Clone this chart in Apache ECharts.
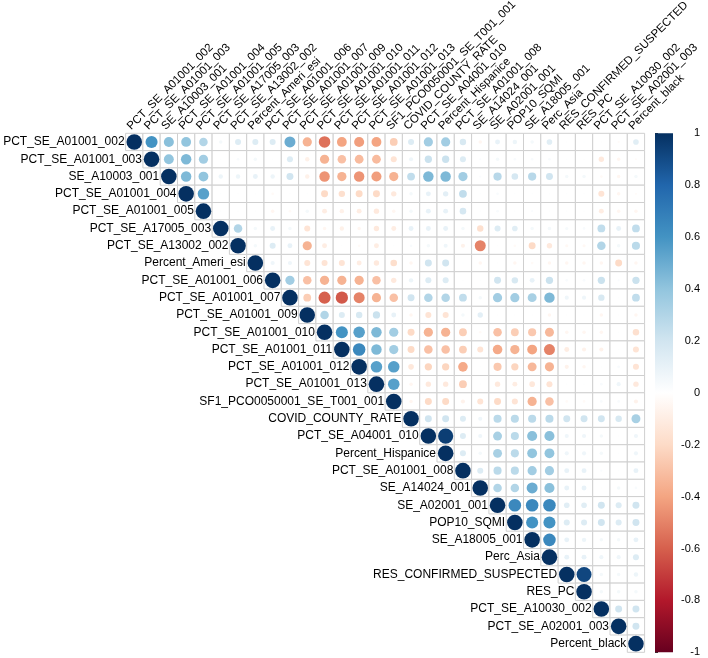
<!DOCTYPE html>
<html><head><meta charset="utf-8">
<script src="https://cdn.jsdelivr.net/npm/echarts@6/dist/echarts.min.js"></script>
<style>html,body{margin:0;padding:0;background:#fff}#c{width:708px;height:658px}</style>
</head><body><div id="c"></div>
<script>
const variables = ["PCT_SE_A01001_002","PCT_SE_A01001_003","SE_A10003_001","PCT_SE_A01001_004","PCT_SE_A01001_005","PCT_SE_A17005_003","PCT_SE_A13002_002","Percent_Ameri_esi","PCT_SE_A01001_006","PCT_SE_A01001_007","PCT_SE_A01001_009","PCT_SE_A01001_010","PCT_SE_A01001_011","PCT_SE_A01001_012","PCT_SE_A01001_013","SF1_PCO0050001_SE_T001_001","COVID_COUNTY_RATE","PCT_SE_A04001_010","Percent_Hispanice","PCT_SE_A01001_008","SE_A14024_001","SE_A02001_001","POP10_SQMI","SE_A18005_001","Perc_Asia","RES_CONFIRMED_SUSPECTED","RES_PC","PCT_SE_A10030_002","PCT_SE_A02001_003","Percent_black"];

// Upper-triangle correlations: rowNN holds r(row NN, columns NN+1 .. 29)
const row00 = [0.6,0.42,0.4,0.3,0.05,0.15,0.15,0.15,0.5,-0.35,-0.55,-0.4,-0.42,-0.4,-0.25,0.15,0.35,0.35,0.17,-0.05,0.1,0.08,0.05,0.13,0.01,0.01,0.01,-0.02,0.13];
const row01 = [0.4,0.45,0.35,0.01,0.03,0.05,0.01,0.15,-0.08,-0.35,-0.3,-0.32,-0.32,-0.15,0.07,0.22,0.22,0.15,0.02,0.05,0.03,0.03,0.03,0.01,0.01,-0.12,-0.05,-0.02];
const row02 = [0.45,0.4,0.08,0.08,0.1,0.08,0.2,-0.08,-0.45,-0.35,-0.45,-0.42,-0.35,0.25,0.45,0.45,0.35,0.02,0.28,0.18,0.28,0.2,0.05,0.05,-0.03,-0.05,0.05];
const row03 = [0.55,0.01,0.01,0.01,-0.03,0.01,0.01,-0.2,-0.17,-0.2,-0.2,-0.12,0.05,0.1,0.12,0.25,0.01,0.03,0.01,0.01,0.01,0.01,0.01,-0.15,-0.05,-0.02];
const row04 = [0.01,0.01,0.01,-0.05,-0.03,0.05,-0.1,-0.08,-0.1,-0.12,-0.05,0.05,0.1,0.1,0.18,0.01,0.03,0.01,0.02,0.01,0.01,0.01,-0.1,-0.05,-0.05];
const row05 = [0.3,0.05,0.1,0.05,-0.15,-0.05,-0.08,-0.05,-0.12,-0.1,0.1,0.1,0.1,0.05,-0.17,0.15,0.13,0.05,0.05,0.04,0.03,0.25,0.1,0.25];
const row06 = [0.05,0.15,0.1,-0.35,-0.1,0.01,-0.03,-0.1,0.01,0.03,0.05,0.07,-0.07,-0.5,0.01,-0.03,-0.2,-0.12,-0.04,-0.04,0.3,0.05,0.27];
const row07 = [0.07,0.07,-0.15,-0.15,-0.15,-0.1,-0.12,-0.18,-0.05,0.2,0.2,0.01,-0.05,0.01,-0.05,-0.03,-0.05,-0.05,-0.05,-0.05,-0.2,-0.05];
const row08 = [0.35,-0.3,-0.35,-0.35,-0.35,-0.3,-0.12,0.08,0.15,0.15,0.01,0.01,0.2,0.17,0.1,0.22,0.03,0.03,0.22,0.02,0.22];
const row09 = [-0.25,-0.6,-0.62,-0.5,-0.35,-0.3,0.2,0.3,0.3,0.25,0.05,0.35,0.35,0.33,0.45,0.07,0.07,0.17,0.01,0.25];
const row10 = [0.3,0.15,0.17,0.22,0.1,-0.05,-0.15,-0.15,0.05,0.12,0.01,0.01,0.01,-0.05,0.01,0.01,-0.05,0.01,-0.05];
const row11 = [0.6,0.55,0.45,0.35,-0.2,-0.35,-0.35,-0.25,-0.03,-0.3,-0.25,-0.27,-0.33,-0.05,-0.05,-0.05,0.01,-0.17];
const row12 = [0.65,0.45,0.35,-0.2,-0.3,-0.3,-0.25,-0.15,-0.38,-0.35,-0.4,-0.5,-0.1,-0.07,-0.07,0.01,-0.15];
const row13 = [0.55,0.55,-0.13,-0.22,-0.22,-0.38,0.01,-0.27,-0.22,-0.33,-0.35,-0.07,-0.05,0.01,0.03,-0.15];
const row14 = [0.55,-0.05,-0.12,-0.12,-0.25,0.01,-0.12,-0.1,-0.13,-0.15,0.01,0.01,0.03,0.07,-0.12];
const row15 = [-0.05,-0.2,-0.2,-0.07,-0.15,-0.2,-0.15,-0.35,-0.3,-0.03,-0.03,0.03,0.03,-0.07];
const row16 = [0.2,0.2,0.15,0.07,0.27,0.27,0.27,0.27,0.2,0.2,0.2,0.17,0.33];
const row17 = [0.95,0.15,0.07,0.33,0.27,0.42,0.42,0.07,0.07,0.05,0.01,0.07];
const row18 = [0.15,0.05,0.33,0.27,0.4,0.4,0.07,0.07,0.05,0.01,0.07];
const row19 = [0.15,0.27,0.27,0.35,0.35,0.1,0.1,0.02,0.01,0.1];
const row20 = [0.3,0.3,0.5,0.42,0.1,0.1,0.01,0.05,0.03];
const row21 = [0.65,0.65,0.65,0.13,0.13,0.2,0.15,0.2];
const row22 = [0.6,0.6,0.15,0.15,0.2,0.15,0.2];
const row23 = [0.65,0.1,0.08,0.05,0.05,0.1];
const row24 = [0.1,0.1,0.07,0.07,0.15];
const row25 = [0.92,0.05,0.05,0.08];
const row26 = [0.05,0.05,0.05];
const row27 = [0.2,0.2];
const row28 = [0.2];

const colorbarMin = -1, colorbarMax = 1, colorbarStep = 0.2;
const palette = ["#67001F","#B2182B","#D6604D","#F4A582","#FDDBC7","#FFFFFF","#D1E5F0","#92C5DE","#4393C3","#2166AC","#053061"];

const upperRows = [row00,row01,row02,row03,row04,row05,row06,row07,row08,row09,row10,row11,row12,row13,row14,row15,row16,row17,row18,row19,row20,row21,row22,row23,row24,row25,row26,row27,row28];

const n = variables.length;
const points = [];
const cells = [];
const diag = [];
for (let i = 0; i < n; i++) {
  points.push([i, i, 1]);
  diag.push([i, i]);
  for (let j = i; j < n; j++) cells.push([j, i]);
  const r = upperRows[i] || [];
  r.forEach((v, k) => points.push([i + 1 + k, i, v]));
}

const FONT = '"Liberation Sans", Arial, sans-serif';
const ROW_LABEL_SIZE = 12;
const COL_LABEL_SIZE = 11.5;
const CELL = 17.3;
const chart = echarts.init(document.getElementById('c'), null, {renderer: 'canvas'});
const stops = palette.slice().reverse().map((c, k, a) => ({offset: k / (a.length - 1), color: c}));

chart.setOption({
  animation: false,
  backgroundColor: '#fff',
  grid: [
    {left: 125.6, top: 133.3, width: CELL * n, height: CELL * n},
    {left: 655, top: 133.3, width: 18, height: CELL * n}
  ],
  xAxis: [
    {type: 'category', data: variables, position: 'top', gridIndex: 0, show: false},
    {type: 'value', gridIndex: 1, min: 0, max: 1, show: false}
  ],
  yAxis: [
    {type: 'category', data: variables, inverse: true, gridIndex: 0, show: false},
    {type: 'value', gridIndex: 1, min: colorbarMin, max: colorbarMax, interval: colorbarStep, position: 'right',
     axisLine: {show: false}, splitLine: {show: false},
     axisTick: {show: true, length: 3, lineStyle: {color: '#333'}},
     axisLabel: {align: 'right', margin: 27, fontSize: 11, color: '#000', fontFamily: FONT,
       formatter: v => String(Math.round(v * 10) / 10)}}
  ],
  visualMap: {
    type: 'continuous', show: false, min: colorbarMin, max: colorbarMax, dimension: 2, seriesIndex: 1,
    inRange: {color: palette}
  },
  series: [
    {type: 'custom', xAxisIndex: 0, yAxisIndex: 0, data: cells, z: 1, silent: true,
     renderItem: (params, api) => {
       const c = api.coord([api.value(0), api.value(1)]);
       const s = api.size([1, 1]);
       return {type: 'rect', shape: {x: c[0] - s[0] / 2, y: c[1] - s[1] / 2, width: s[0], height: s[1]},
               style: {fill: '#fff', stroke: '#cfcfcf', lineWidth: 1}};
     }},
    {type: 'scatter', xAxisIndex: 0, yAxisIndex: 0, data: points, z: 3,
     symbolSize: v => 0.9 * CELL * Math.sqrt(Math.abs(v[2])),
     itemStyle: {opacity: 1}},
    {type: 'custom', xAxisIndex: 0, yAxisIndex: 0, data: diag, z: 4, silent: true,
     renderItem: (params, api) => {
       const c = api.coord([api.value(0), api.value(1)]);
       const s = api.size([1, 1]);
       const name = variables[api.value(1)];
       const top = params.coordSys.y;
       return {type: 'group', children: [
         {type: 'text', x: c[0] - s[0] / 2 - 1, y: c[1],
          style: {text: name, align: 'right', verticalAlign: 'middle',
                  fill: '#000', fontSize: ROW_LABEL_SIZE, fontFamily: FONT}},
         {type: 'text', x: c[0] - 1, y: top - 1, rotation: Math.PI / 4,
          style: {text: name, align: 'left', verticalAlign: 'bottom',
                  fill: '#000', fontSize: COL_LABEL_SIZE, fontFamily: FONT}}
       ]};
     }},
    {type: 'custom', xAxisIndex: 1, yAxisIndex: 1, data: [[0, colorbarMax]], z: 2, silent: true,
     renderItem: (params, api) => {
       const top = api.coord([0, colorbarMax]);
       const bot = api.coord([0, colorbarMin]);
       const cs = params.coordSys;
       return {type: 'rect', shape: {x: cs.x, y: top[1], width: cs.width, height: bot[1] - top[1]},
               style: {fill: new echarts.graphic.LinearGradient(0, 0, 0, 1, stops)}};
     }}
  ]
});
</script></body></html>
